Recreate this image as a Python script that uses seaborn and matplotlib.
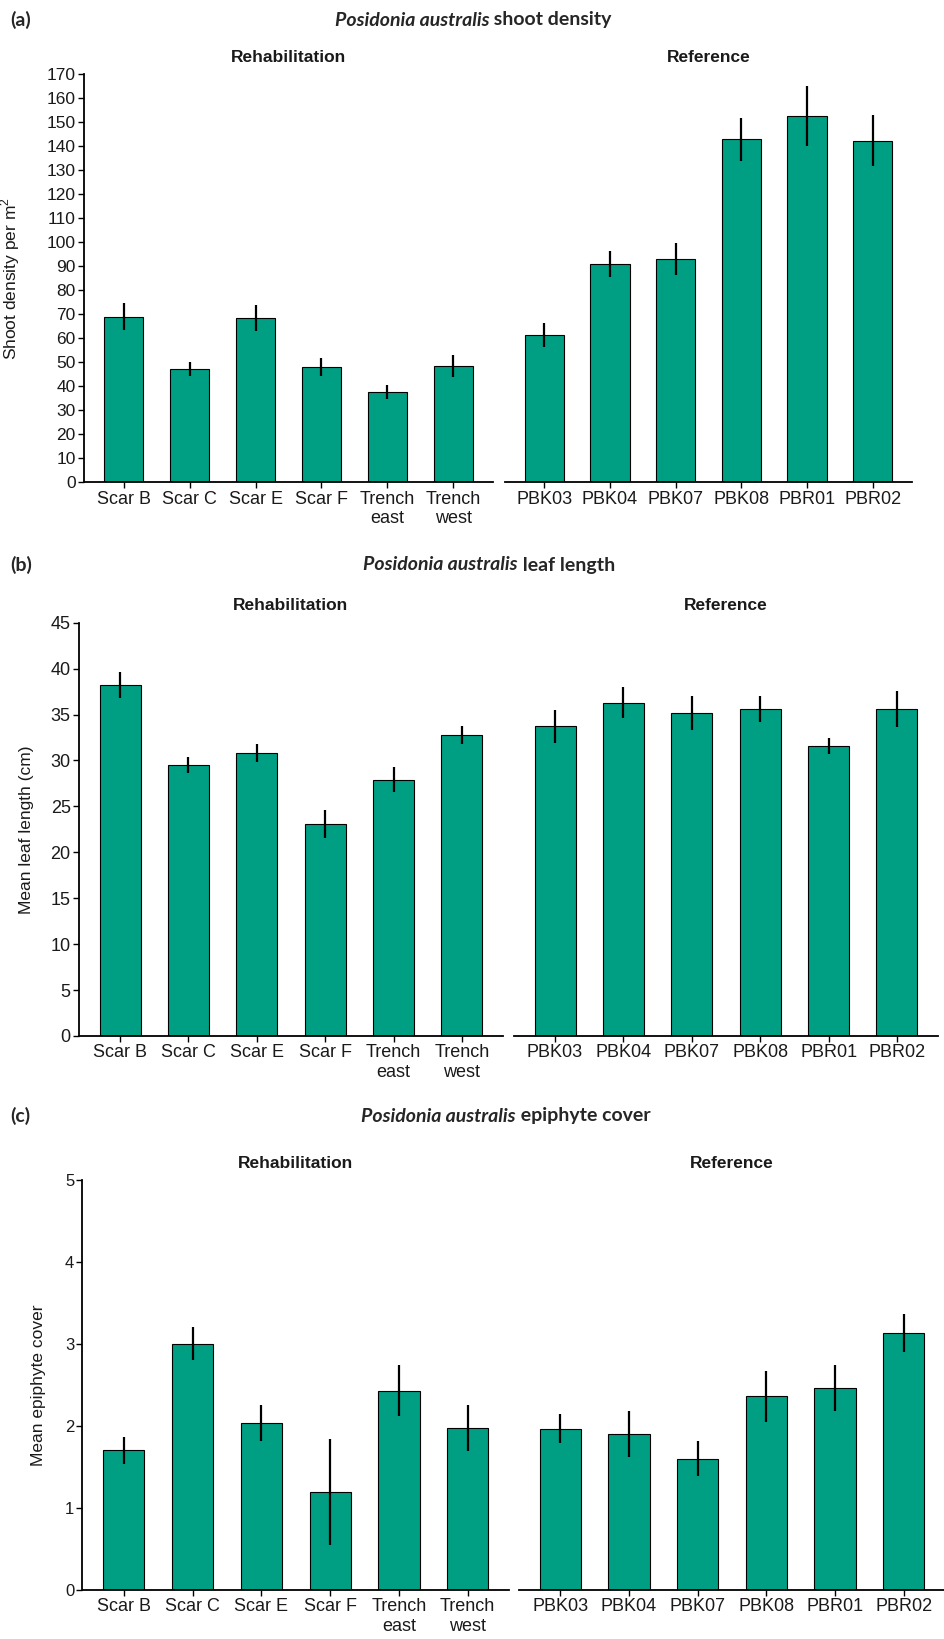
import matplotlib
matplotlib.use("Agg")
import matplotlib.pyplot as plt
import pandas as pd
import seaborn as sns

# site names
rehab_sites = ["Scar B", "Scar C", "Scar E", "Scar F", "Trench\neast", "Trench\nwest"]
ref_sites = ["PBK03", "PBK04", "PBK07", "PBK08", "PBR01", "PBR02"]

# (a) shoot density per m2, mean and standard error
shoot_rehab = [68.9, 47.3, 68.5, 48.1, 37.6, 48.4]
shoot_rehab_se = [5.6, 3.0, 5.4, 3.8, 3.0, 4.6]
shoot_ref = [61.5, 90.9, 93.0, 142.8, 152.6, 142.3]
shoot_ref_se = [5.0, 5.4, 6.8, 9.0, 12.5, 10.5]

# (b) mean leaf length (cm)
leaf_rehab = [38.2, 29.5, 30.8, 23.1, 27.9, 32.8]
leaf_rehab_se = [1.4, 0.9, 1.0, 1.5, 1.35, 1.0]
leaf_ref = [33.7, 36.3, 35.2, 35.6, 31.6, 35.6]
leaf_ref_se = [1.75, 1.7, 1.85, 1.4, 0.85, 1.95]

# (c) mean epiphyte cover
epi_rehab = [1.70, 3.00, 2.03, 1.19, 2.43, 1.97]
epi_rehab_se = [0.16, 0.20, 0.22, 0.645, 0.31, 0.28]
epi_ref = [1.965, 1.90, 1.60, 2.36, 2.46, 3.13]
epi_ref_se = [0.18, 0.28, 0.21, 0.31, 0.28, 0.235]

BAR_COLOR = "#009E82"
W, H = 945, 1639

sns.set_theme(style="white")
plt.rcParams["font.family"] = ["Liberation Sans", "DejaVu Sans"]
plt.rcParams["mathtext.fontset"] = "custom"
plt.rcParams["mathtext.rm"] = "Liberation Sans"

fig = plt.figure(figsize=(W / 100, H / 100), dpi=100)
fig.patch.set_facecolor("white")


def px_axes(x0, y0, x1, y1):
    return fig.add_axes([x0 / W, 1 - y1 / H, (x1 - x0) / W, (y1 - y0) / H])


def draw_bars(ax, sites, means, ses, ymax, yticks, left, ytick_size):
    df = pd.DataFrame({"site": sites, "value": means})
    sns.barplot(data=df, x="site", y="value", color=BAR_COLOR, saturation=1,
                width=0.6, edgecolor="black", linewidth=0.8, errorbar=None, ax=ax)
    lo = [m - s for m, s in zip(means, ses)]
    hi = [m + s for m, s in zip(means, ses)]
    ax.vlines(range(len(sites)), lo, hi, color="black", linewidth=1.6, zorder=5)
    ax.set_xlim(-0.6, len(sites) - 0.4)
    ax.set_ylim(0, ymax)
    ax.set_xlabel("")
    ax.set_ylabel("")
    ax.set_facecolor("white")
    for s in ["top", "right"]:
        ax.spines[s].set_visible(False)
    ax.spines["bottom"].set_color("black")
    ax.spines["bottom"].set_linewidth(1.3)
    ax.tick_params(axis="x", bottom=True, length=4, width=1, color="black",
                   labelsize=13, pad=2, labelcolor="#1a1a1a")
    if left:
        ax.spines["left"].set_color("black")
        ax.spines["left"].set_linewidth(1.3)
        ax.set_yticks(yticks)
        ax.tick_params(axis="y", left=True, length=4, width=1, color="black",
                       labelsize=ytick_size, pad=2, labelcolor="#1a1a1a")
    else:
        ax.spines["left"].set_visible(False)
        ax.set_yticks([])


def panel_title(letter, xc, y, italic_part, rest):
    fig.text(10 / W, 1 - y / H, letter, fontsize=14, fontweight="bold",
             family=["Lato", "DejaVu Sans"], va="center", ha="left")
    t1 = fig.text(0, 1 - y / H, italic_part, fontsize=14, fontweight="bold",
                  fontstyle="italic", family=["Lato", "DejaVu Sans"], va="center", ha="left")
    t2 = fig.text(0, 1 - y / H, rest, fontsize=14, fontweight="bold",
                  family=["Lato", "DejaVu Sans"], va="center", ha="left")
    r = fig.canvas.get_renderer()
    w1 = t1.get_window_extent(r).width
    w2 = t2.get_window_extent(r).width
    start = xc - (w1 + w2) / 2
    t1.set_x(start / W)
    t2.set_x((start + w1) / W)


def strip(x0, x1, y, label):
    fig.text((x0 + x1) / 2 / W, 1 - y / H, label, fontsize=12.5, fontweight="bold",
             ha="center", va="center", color="#1a1a1a")


panels = [
    dict(letter="(a)", title_y=20, title_x=473, rest=" shoot density", strip_y=57,
         rehab=(84, 74, 493, 482.5), ref=(505, 74, 912, 482.5),
         data=(shoot_rehab, shoot_rehab_se, shoot_ref, shoot_ref_se),
         ymax=170, yticks=list(range(0, 171, 10)), ytick_size=12.5,
         ylabel="Shoot density per m$^2$", ylabel_x=22),
    dict(letter="(b)", title_y=565, title_x=489, rest=" leaf length", strip_y=606,
         rehab=(79, 622.7, 503, 1036), ref=(514, 622.7, 938, 1036),
         data=(leaf_rehab, leaf_rehab_se, leaf_ref, leaf_ref_se),
         ymax=45, yticks=list(range(0, 46, 5)), ytick_size=13,
         ylabel="Mean leaf length (cm)", ylabel_x=34),
    dict(letter="(c)", title_y=1116, title_x=506, rest=" epiphyte cover", strip_y=1163,
         rehab=(82.5, 1179.6, 509, 1590), ref=(519, 1179.6, 945, 1590),
         data=(epi_rehab, epi_rehab_se, epi_ref, epi_ref_se),
         ymax=5, yticks=list(range(0, 6)), ytick_size=12,
         ylabel="Mean epiphyte cover", ylabel_x=46),
]

for p in panels:
    rm, rs, fm, fs = p["data"]
    ax_r = px_axes(*p["rehab"])
    draw_bars(ax_r, rehab_sites, rm, rs, p["ymax"], p["yticks"], True, p["ytick_size"])
    ax_f = px_axes(*p["ref"])
    draw_bars(ax_f, ref_sites, fm, fs, p["ymax"], p["yticks"], False, p["ytick_size"])

    x0, y0, x1, y1 = p["rehab"]
    ax_r.set_ylabel(p["ylabel"], fontsize=12.5, color="#1a1a1a")
    ax_r.yaxis.set_label_coords((p["ylabel_x"] - x0) / (x1 - x0), 0.5)

    strip(p["rehab"][0], p["rehab"][2], p["strip_y"], "Rehabilitation")
    strip(p["ref"][0], p["ref"][2], p["strip_y"], "Reference")
    panel_title(p["letter"], p["title_x"], p["title_y"], "Posidonia australis", p["rest"])

fig.savefig("out.png", dpi=100, facecolor="white")
